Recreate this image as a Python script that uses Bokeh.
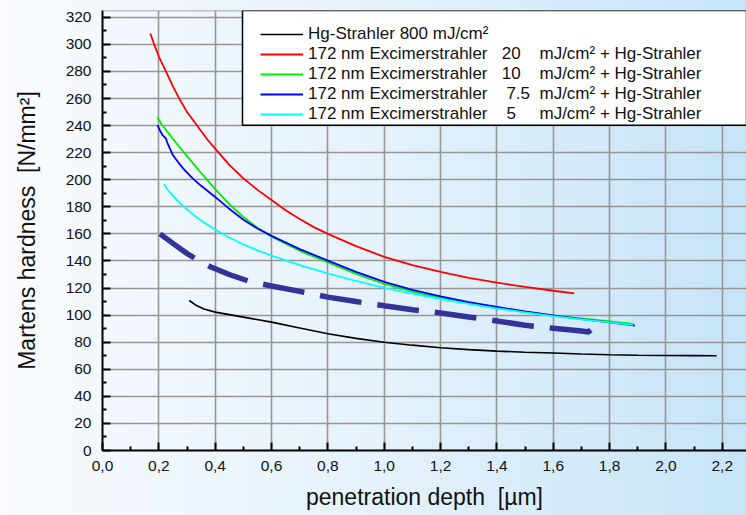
from bokeh.plotting import figure
from bokeh.models import FixedTicker, Legend, LegendItem, BoxAnnotation, Span, Range1d
from bokeh.embed import file_html
from bokeh.resources import INLINE

# --- axis ticks -------------------------------------------------------------
x_ticks = [0.0, 0.2, 0.4, 0.6, 0.8, 1.0, 1.2, 1.4, 1.6, 1.8, 2.0, 2.2]
x_tick_labels = ["0,0", "0,2", "0,4", "0,6", "0,8", "1,0", "1,2", "1,4",
                 "1,6", "1,8", "2,0", "2,2"]
x_minor_ticks = [0.1, 0.3, 0.5, 0.7, 0.9, 1.1, 1.3, 1.5, 1.7, 1.9, 2.1]
y_ticks = [0, 20, 40, 60, 80, 100, 120, 140, 160, 180, 200, 220, 240, 260,
           280, 300, 320]
y_minor_ticks = [10, 30, 50, 70, 90, 110, 130, 150, 170, 190, 210, 230, 250,
                 270, 290, 310]

# --- measured curves: penetration depth [µm] vs Martens hardness [N/mm²] ----
hg800_x = [0.308, 0.33, 0.36, 0.40, 0.5, 0.6, 0.7, 0.8, 0.9, 1.0, 1.1, 1.2,
           1.3, 1.4, 1.5, 1.6, 1.7, 1.8, 1.9, 2.0, 2.1, 2.18]
hg800_y = [110.8, 107.5, 104.5, 102.2, 98.5, 94.8, 90.5, 86.2, 82.8, 80.0,
           77.8, 75.9, 74.5, 73.4, 72.6, 72.0, 71.3, 70.7, 70.4, 70.2, 70.1, 70.0]

ex20_x = [0.17, 0.185, 0.2, 0.225, 0.25, 0.275, 0.3, 0.325, 0.35, 0.375, 0.4,
          0.45, 0.5, 0.55, 0.6, 0.65, 0.7, 0.75, 0.8, 0.9, 1.0, 1.1, 1.2, 1.3,
          1.4, 1.5, 1.6, 1.675]
ex20_y = [308, 299, 291, 280, 269, 259, 250, 243, 236, 229, 223, 211, 201,
          192.5, 185, 177.5, 171, 165, 160, 151, 143, 137, 132, 127.5, 124,
          120.8, 118, 116]

ex10_x = [0.195, 0.21, 0.23, 0.26, 0.29, 0.32, 0.35, 0.4, 0.45, 0.5, 0.55,
          0.6, 0.7, 0.8, 0.9, 1.0, 1.1, 1.2, 1.3, 1.4, 1.5, 1.6, 1.7, 1.8, 1.885]
ex10_y = [246, 241, 235.5, 227.5, 220, 212.5, 205, 193, 182, 172.5, 164.5,
          158, 147.5, 139, 130.5, 123, 117.3, 112.7, 108.6, 105.2, 102.2,
          99.7, 97.5, 95.4, 93.6]

ex75_x = [0.195, 0.205, 0.213, 0.225, 0.231, 0.249, 0.27, 0.29, 0.32, 0.35,
          0.4, 0.45, 0.5, 0.55, 0.6, 0.7, 0.8, 0.9, 1.0, 1.1, 1.2, 1.3, 1.4,
          1.5, 1.6, 1.7, 1.8, 1.89]
ex75_y = [240.3, 236, 233, 230.5, 226.8, 218.5, 212.5, 207.5, 201, 195.5,
          187.3, 178.5, 170.5, 164, 158.5, 148.7, 140.3, 132, 124.5, 118.7,
          113.8, 109.6, 106, 102.7, 99.8, 97.1, 94.7, 92.3]

ex5_x = [0.219, 0.23, 0.243, 0.265, 0.29, 0.32, 0.35, 0.4, 0.45, 0.5, 0.55,
         0.6, 0.7, 0.8, 0.9, 1.0, 1.1, 1.2, 1.3, 1.4, 1.5, 1.6, 1.7, 1.8, 1.883]
ex5_y = [196.7, 193, 189.8, 184.8, 179.9, 174.6, 169.8, 163.2, 157.3, 152.2,
         147.8, 144, 137, 130.8, 125.2, 120.2, 115.8, 111.9, 108.3, 105,
         102, 99.3, 96.9, 94.7, 92.8]

trend_x = [0.204, 0.25, 0.3, 0.33, 0.385, 0.45, 0.52, 0.6, 0.7, 0.8, 0.9, 1.0,
           1.1, 1.2, 1.3, 1.4, 1.5, 1.6, 1.7, 1.725, 1.735]
trend_y = [160, 153, 145.5, 141.7, 135.5, 130, 125, 121.5, 117.5, 113.3, 110,
           106.9, 103.9, 101.6, 98.6, 95.7, 92.5, 90.3, 88.2, 87.6, 89.5]

legend_labels = [
    "Hg-Strahler 800 mJ/cm²",
    "172 nm Excimerstrahler   20    mJ/cm² + Hg-Strahler",
    "172 nm Excimerstrahler   10    mJ/cm² + Hg-Strahler",
    "172 nm Excimerstrahler    7.5  mJ/cm² + Hg-Strahler",
    "172 nm Excimerstrahler    5     mJ/cm² + Hg-Strahler",
]

FONT = "Liberation Sans"
NBSP = "\u00a0"

p = figure(width=746, height=515,
           x_range=Range1d(0, 2.286), y_range=Range1d(0, 325),
           output_backend="svg", toolbar_location=None,
           min_border_left=102, min_border_right=0,
           min_border_top=10, min_border_bottom=65)

p.background_fill_color = None
p.border_fill_color = None
p.outline_line_color = None
p.styles = {"background": "linear-gradient(90deg, #f9fbfe 0%, #e5f2fb 50%, #c6e4f8 100%)"}

# axes
for ax in (p.xaxis, p.yaxis):
    ax.axis_line_color = "black"
    ax.axis_line_width = 2
    ax.major_tick_line_color = "black"
    ax.major_tick_line_width = 2
    ax.major_tick_in = 8
    ax.major_tick_out = 0
    ax.minor_tick_line_color = "black"
    ax.minor_tick_line_width = 2
    ax.minor_tick_in = 4
    ax.minor_tick_out = 0
    ax.major_label_text_font = FONT
    ax.major_label_text_font_size = "15.5px"
    ax.major_label_text_color = "#111111"
    ax.axis_label_text_font = FONT
    ax.axis_label_text_font_size = "23px"
    ax.axis_label_text_font_style = "normal"
    ax.axis_label_text_color = "#111111"

p.xaxis.ticker = FixedTicker(ticks=x_ticks, minor_ticks=x_minor_ticks)
p.xaxis.major_label_overrides = dict(zip(x_ticks, x_tick_labels))
p.xaxis.major_label_standoff = 10
p.xaxis.axis_label = "penetration depth" + NBSP + NBSP + "[µm]"
p.xaxis.axis_label_standoff = 10

p.yaxis.ticker = FixedTicker(ticks=y_ticks, minor_ticks=y_minor_ticks)
p.yaxis.major_label_standoff = 11
p.yaxis.axis_label = "Martens hardness" + NBSP + NBSP + "[N/mm²]"
p.yaxis.axis_label_standoff = 23

for g in (p.xgrid, p.ygrid):
    g.grid_line_color = "#969696"
    g.grid_line_width = 1.6

p.add_layout(Span(location=325, dimension="width", line_color="#8a8a8a",
                  line_width=1.5))

# curves
r_hg = p.line(hg800_x, hg800_y, line_color="black", line_width=1.6)
r_20 = p.line(ex20_x, ex20_y, line_color="#ff0000", line_width=1.8)
r_10 = p.line(ex10_x, ex10_y, line_color="#00ee00", line_width=1.8)
r_75 = p.line(ex75_x, ex75_y, line_color="#0000ff", line_width=1.8)
r_5 = p.line(ex5_x, ex5_y, line_color="#00ffff", line_width=1.8)
p.line(trend_x, trend_y, line_color="#333399", line_width=5.5,
       line_dash="42 16")

# legend frame and entries
p.add_layout(BoxAnnotation(left=0.497, bottom=240.3, fill_color="white",
                           fill_alpha=1, line_color="black", line_width=1.5,
                           line_alpha=1))
legend = Legend(items=[LegendItem(label=lab, renderers=[r])
                       for lab, r in zip(legend_labels, [r_hg, r_20, r_10, r_75, r_5])],
                location=(158, 326), padding=0, margin=0,
                border_line_color=None, background_fill_alpha=0,
                glyph_width=43, glyph_height=20, label_height=20,
                spacing=-1, label_standoff=5,
                label_text_font=FONT, label_text_font_size="17px",
                label_text_color="#111111")
p.add_layout(legend)

open("out.html", "w").write(file_html(p, INLINE))
